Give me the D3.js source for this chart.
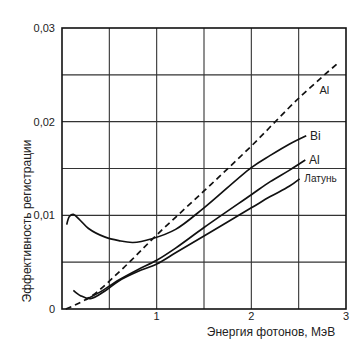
<!DOCTYPE html>
<html><head><meta charset="utf-8">
<script src="https://cdn.jsdelivr.net/npm/d3@7"></script>
<style>body{margin:0;background:#fff}svg{display:block}</style>
</head><body>
<svg id="c" width="362" height="340"></svg>
<script>
const xTicks = [1, 2, 3];
const yTicks = [0, 0.01, 0.02, 0.03];
const yTickLabels = ["0", "0,01", "0,02", "0,03"];
const xTitle = "Энергия фотонов, МэВ";
const yTitle = "Эффективность регистрации";

const biE   = [0.05, 0.08, 0.12, 0.18, 0.28, 0.45, 0.6, 0.75, 0.95, 1.2, 1.5, 2.0, 2.2, 2.4, 2.58];
const biV   = [0.0090, 0.0099, 0.0101, 0.0096, 0.0086, 0.0077, 0.0073, 0.0071, 0.0075, 0.0085, 0.0108, 0.0151, 0.0164, 0.0176, 0.0185];
const alE   = [0.25, 0.4, 0.6, 0.8, 1.0, 1.2, 1.5, 2.0, 2.2, 2.4, 2.57];
const alV   = [0.0010, 0.0018, 0.0031, 0.0042, 0.0052, 0.0065, 0.0087, 0.0122, 0.0136, 0.0148, 0.0159];
const latE  = [0.12, 0.2, 0.3, 0.45, 0.6, 0.8, 1.0, 1.2, 1.5, 2.0, 2.2, 2.4, 2.51];
const latV  = [0.0020, 0.0014, 0.0011, 0.0019, 0.0030, 0.0040, 0.0048, 0.0060, 0.0078, 0.0108, 0.0120, 0.0131, 0.0139];
const alDE  = [0.04, 0.3, 0.65, 1.0, 1.5, 2.0, 2.5, 2.92];
const alDV  = [0.0, 0.0013, 0.0044, 0.0079, 0.0126, 0.0174, 0.0225, 0.0263];
const seriesNames = ["Bi", "Al", "Латунь", "Al"];

const svg = d3.select("#c");
const L = 62, R = 346, T = 28, B = 309;
const x = d3.scaleLinear().domain([0, 3]).range([L, R]);
const y = d3.scaleLinear().domain([0, 0.03]).range([B, T]);

// grid
const gx = d3.range(0.5, 3, 0.5);
const gy = d3.range(0.005, 0.03, 0.005);
svg.append("g").selectAll("line").data(gx).join("line")
  .attr("x1", d => x(d)).attr("x2", d => x(d)).attr("y1", T).attr("y2", B)
  .attr("stroke", "#333").attr("stroke-width", 1.1);
svg.append("g").selectAll("line").data(gy).join("line")
  .attr("y1", d => y(d)).attr("y2", d => y(d)).attr("x1", L).attr("x2", R)
  .attr("stroke", "#333").attr("stroke-width", 1.1);
svg.append("rect").attr("x", L).attr("y", T).attr("width", R - L).attr("height", B - T)
  .attr("fill", "none").attr("stroke", "#111").attr("stroke-width", 1.6);

// axes labels
const font = "Arial, 'Liberation Sans', sans-serif";
svg.append("g").selectAll("text").data(yTicks).join("text")
  .attr("x", L - 7).attr("y", d => y(d) + 4).attr("text-anchor", "end")
  .attr("font-family", font).attr("font-size", 11).attr("fill", "#222")
  .text((d, i) => yTickLabels[i]);
svg.append("g").selectAll("text").data(xTicks).join("text")
  .attr("x", d => x(d)).attr("y", B + 11).attr("text-anchor", "middle")
  .attr("font-family", font).attr("font-size", 11).attr("fill", "#222")
  .text(d => d);
svg.append("text").attr("x", 271).attr("y", 336).attr("text-anchor", "middle")
  .attr("font-family", font).attr("font-size", 12).attr("fill", "#222").text(xTitle);
svg.append("text").attr("transform", "translate(31,221) rotate(-90)").attr("text-anchor", "middle")
  .attr("font-family", font).attr("font-size", 12).attr("fill", "#222").text(yTitle);

// curves
const line = d3.line().x(d => x(d[0])).y(d => y(d[1])).curve(d3.curveCatmullRom.alpha(0.5));
const series = [
  {e: biE, v: biV, dash: null},
  {e: alE, v: alV, dash: null},
  {e: latE, v: latV, dash: null},
  {e: alDE, v: alDV, dash: "6,4"}
];
series.forEach(s => {
  const pts = s.e.map((e, i) => [e, s.v[i]]);
  svg.append("path").attr("d", line(pts)).attr("fill", "none")
    .attr("stroke", "#111").attr("stroke-width", 1.7)
    .attr("stroke-dasharray", s.dash);
});

// labels
const lab = [
  {t: seriesNames[0], e: 2.62, v: 0.0185, dy: 4, fs: 12},
  {t: seriesNames[1], e: 2.61, v: 0.0159, dy: 4, fs: 12},
  {t: seriesNames[2], e: 2.56, v: 0.0139, dy: 3, fs: 10},
  {t: seriesNames[3], e: 2.72, v: 0.0234, dy: 4, fs: 11}
];
svg.append("g").selectAll("text").data(lab).join("text")
  .attr("x", d => x(d.e)).attr("y", d => y(d.v) + d.dy)
  .attr("font-family", font).attr("font-size", d => d.fs).attr("fill", "#222")
  .text(d => d.t);
</script>
</body></html>
